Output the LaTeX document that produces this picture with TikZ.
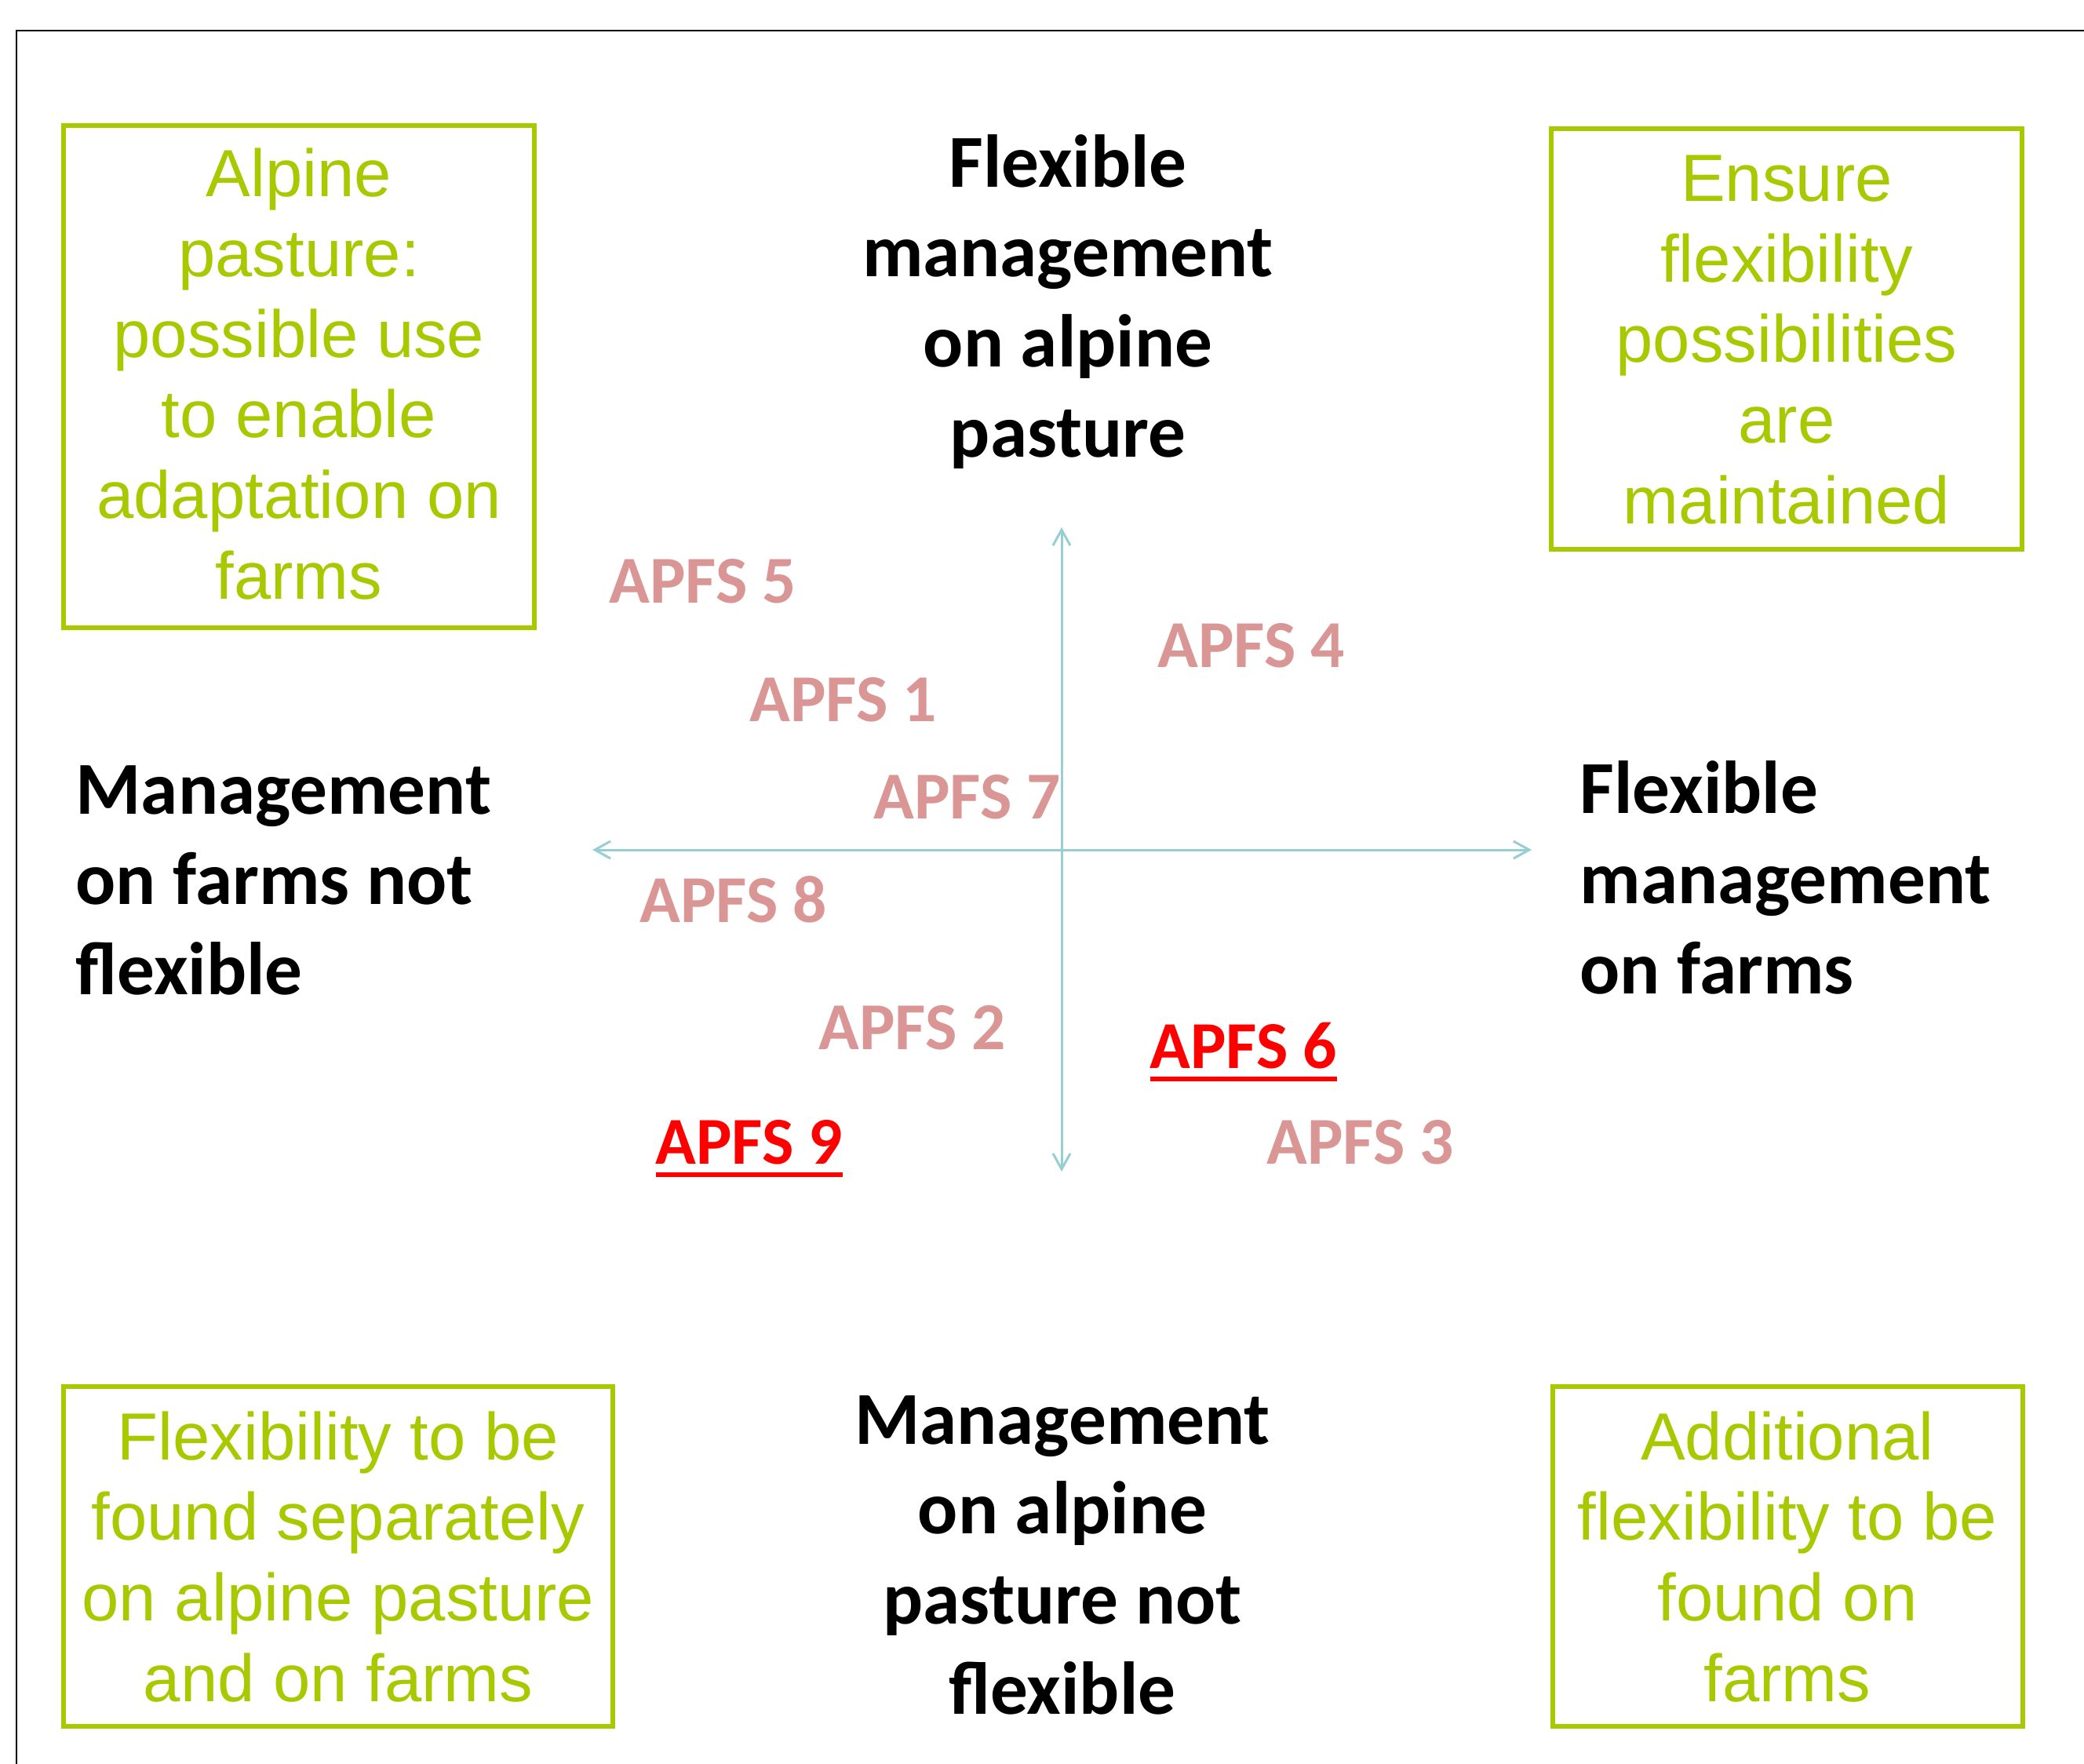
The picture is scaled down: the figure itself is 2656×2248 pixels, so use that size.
\documentclass[tikz,border=0pt]{standalone}
\usepackage{fontspec}
\usetikzlibrary{arrows.meta}
\newfontfamily\calbfont{Carlito}
\newfontfamily\arialfont{Liberation Sans}
\definecolor{grn}{RGB}{168,200,0}
\definecolor{axisc}{RGB}{150,206,212}
\definecolor{apfsc}{RGB}{217,150,148}
\definecolor{apfsred}{RGB}{255,0,0}
\newsavebox{\myulbox}
\newcommand{\myul}[1]{\sbox{\myulbox}{#1}\rlap{\rule[-4.7pt]{\wd\myulbox}{1.45pt}}\usebox{\myulbox}}
\begin{document}
\begin{tikzpicture}[x=0.01cm,y=-0.01cm,
  blacktext/.style={inner sep=0pt,font=\calbfont\bfseries\fontsize{27.1pt}{32.6pt}\selectfont,text=black},
  greentext/.style={inner sep=0pt,align=center,font=\arialfont\fontsize{24.19pt}{29.16pt}\selectfont,text=grn},
  greenbox/.style={draw=grn,line width=1.45pt},
  apfs/.style={inner sep=0pt,anchor=base west,font=\calbfont\bfseries\fontsize{24.3pt}{29pt}\selectfont,text=apfsc},
  apfshot/.style={apfs,text=apfsred},
  axis/.style={draw=axisc,line width=0.85pt,{Straight Barb[length=0.2cm,width=0.22cm]}-{Straight Barb[length=0.2cm,width=0.22cm]}},
  frameline/.style={draw=black,line width=0.7pt}]
\useasboundingbox (0,0) rectangle (2656,2248);
% frame
\coordinate (fbl) at (21,2260);
\coordinate (ftl) at (21,39);
\coordinate (ftr) at (2670,39);
\draw[frameline] (fbl) -- (ftl) -- (ftr);
% green boxes
\draw[greenbox] (81,160) rectangle (681,800);
\draw[greenbox] (1977,164) rectangle (2577,700);
\draw[greenbox] (81,1767) rectangle (781,2200);
\draw[greenbox] (1979,1767) rectangle (2578,2200);
\node[greentext,anchor=base] (tl) at (381,763) {Alpine\\pasture:\\possible use\\to enable\\adaptation on\\farms};
\node[greentext,anchor=base] (tr) at (2277,667) {Ensure\\flexibility\\possibilities\\are\\maintained};
\node[greentext,anchor=base] (bl) at (431,2168) {Flexibility to be\\found separately\\on alpine pasture\\and on farms};
\node[greentext,anchor=base] (br) at (2278,2168) {Additional\\flexibility to be\\found on\\farms};
% axis labels
\node[blacktext,align=center,anchor=base] (north) at (1361,582) {Flexible\\management\\on alpine\\pasture};
\node[blacktext,align=left,anchor=base west] (west) at (96,1267) {Management\\on farms not\\flexible};
\node[blacktext,align=left,anchor=base west] (east) at (2013,1266) {Flexible\\management\\on farms};
\node[blacktext,align=center,anchor=base] (south) at (1354,2184) {Management\\on alpine\\pasture not\\flexible};
% axes
\coordinate (atop) at (1353,672);
\coordinate (abot) at (1353,1493);
\coordinate (aleft) at (755,1083);
\coordinate (aright) at (1952,1083);
\draw[axis] (abot) -- (atop);
\draw[axis] (aleft) -- (aright);
% APFS labels
\node[apfs] (a5) at (776,768) {APFS 5};
\node[apfs] (a1) at (955,919) {APFS 1};
\node[apfs] (a7) at (1113,1043) {APFS 7};
\node[apfs] (a4) at (1475,850) {APFS 4};
\node[apfs] (a8) at (815,1175) {APFS 8};
\node[apfs] (a2) at (1043,1337) {APFS 2};
\node[apfshot] (a6) at (1465,1361) {\myul{APFS 6}};
\node[apfshot] (a9) at (835,1483) {\myul{APFS 9}};
\node[apfs] (a3) at (1614,1483) {APFS 3};
\end{tikzpicture}
\end{document}
